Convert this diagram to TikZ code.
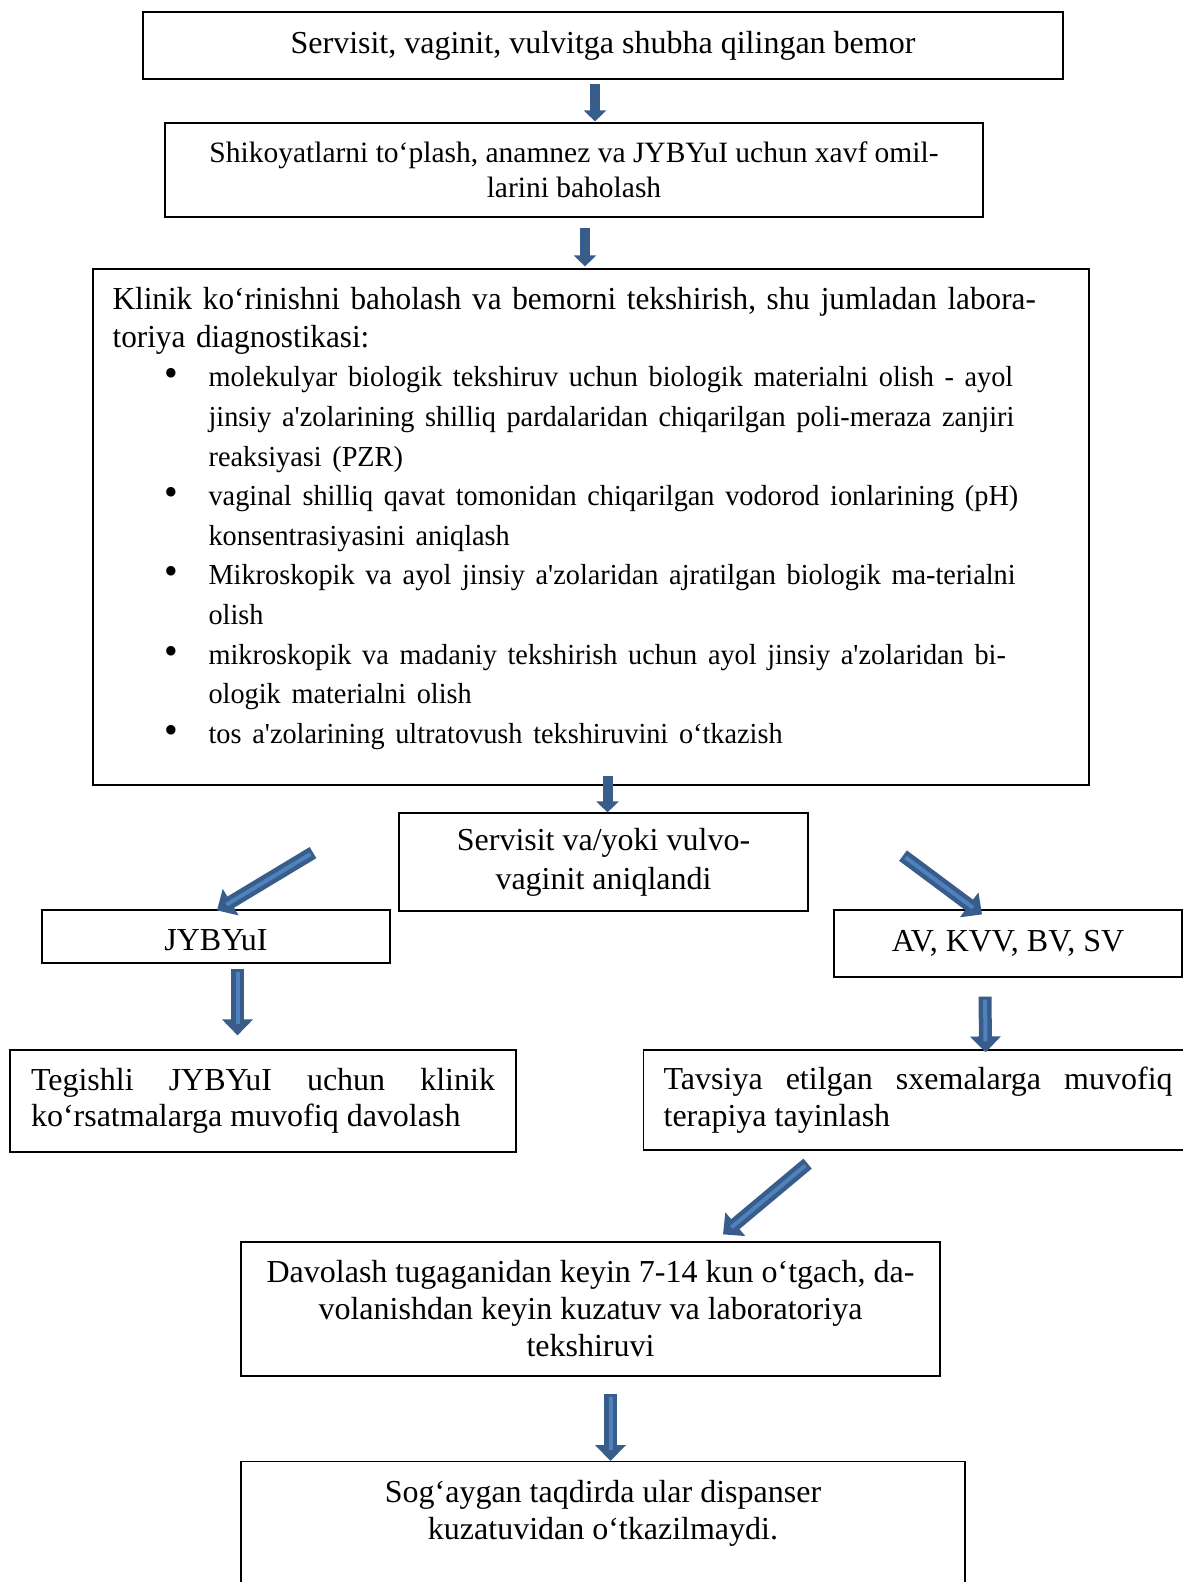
\documentclass[tikz,border=0pt]{standalone}
\usepackage{fontspec}
\setmainfont{Liberation Serif}
\newfontfamily\clinfont{Liberation Serif}[FakeStretch=0.975]
\usetikzlibrary{arrows.meta,calc}
\definecolor{arrowedge}{RGB}{56,93,138}
\definecolor{arrowfill}{RGB}{79,129,189}
\newcommand{\apos}{\textquotesingle}
\newcommand{\labitem}{\par\noindent\hangindent=96pt\hangafter=1%
  \hbox to 96pt{\hspace{52pt}\smash{\fontsize{40}{40}\selectfont\textbullet}\hfil}}
\tikzset{
  box/.style={draw=black,line width=1.2pt,inner sep=0pt,align=center,
              font=\fontsize{32}{37}\selectfont},
  smallbox/.style={box,font=\fontsize{29.5}{34.6}\selectfont},
  justbox/.style={box,align=justify,inner xsep=20pt,font=\fontsize{32}{36.6}\selectfont},
  plain/.style={inner sep=0pt},
  listtext/.style={plain,text width=960pt,font=\clinfont\fontsize{32}{37.5}\selectfont},
  thinarrow/.style={draw=arrowedge,line width=10pt,-{Triangle[width=22pt,length=11pt]}},
  bigarrow/.style={draw=arrowedge,line width=13pt,-{Triangle[width=30pt,length=16pt]}},
  bigcore/.style={draw=arrowfill,line width=4pt,shorten >=11pt,shorten <=3pt},
}
\begin{document}
\begin{tikzpicture}[x=1pt,y=-1pt]
  \path[use as bounding box] (0,0) rectangle (1183,1582);

  % upper chain
  \node[box,minimum width=920pt,minimum height=67pt] (top) at (603,45.5)
    {Servisit, vaginit, vulvitga shubha qilingan bemor};
  \node[smallbox,minimum width=818pt,minimum height=94pt] (shik) at (574,170)
    {Shikoyatlarni to‘plash, anamnez va JYBYuI uchun xavf omil-\\larini baholash};
  \node[box,minimum width=996pt,minimum height=516pt] (clin) at (591,527) {};
  \node[listtext,anchor=north west] (clintext) at ($(clin.north west)+(20,19)$)
    {\parindent=0pt
     Klinik ko‘rinishni baholash va bemorni tekshirish, shu jumladan labora-\newline
     toriya diagnostikasi:\par
     {\fontsize{29}{39.6}\selectfont
     \labitem molekulyar biologik tekshiruv uchun biologik materialni olish - ayol\newline
       jinsiy a\apos zolarining shilliq pardalaridan chiqarilgan poli-meraza zanjiri\newline
       reaksiyasi (PZR)
     \labitem vaginal shilliq qavat tomonidan chiqarilgan vodorod ionlarining (pH)\newline
       konsentrasiyasini aniqlash
     \labitem Mikroskopik va ayol jinsiy a\apos zolaridan ajratilgan biologik ma-terialni\newline
       olish
     \labitem mikroskopik va madaniy tekshirish uchun ayol jinsiy a\apos zolaridan bi-\newline
       ologik materialni olish
     \labitem tos a\apos zolarining ultratovush tekshiruvini o‘tkazish\par}};

  % branches
  \node[box,minimum width=409pt,minimum height=98pt,font=\fontsize{32}{39.3}\selectfont] (found) at (603.5,862)
    {Servisit va/yoki vulvo-\\vaginit aniqlandi};
  \node[box,minimum width=348pt,minimum height=53pt,text height=28pt,text depth=0pt] (jyb) at (216,936.5) {JYBYuI};
  \node[box,minimum width=348pt,minimum height=67pt] (av) at (1008,943.5) {AV, KVV, BV, SV};
  \node[justbox,text width=464pt,minimum width=506pt,minimum height=102pt] (teg) at (263,1101)
    {Tegishli JYBYuI uchun klinik\linebreak ko‘rsatmalarga muvofiq davolash};
  \node[justbox,text width=509pt,minimum height=100pt,anchor=west] (tav) at (643,1100)
    {Tavsiya etilgan sxemalarga muvofiq\linebreak terapiya tayinlash};

  % follow-up
  \node[box,minimum width=699pt,minimum height=134pt] (dav) at (590.5,1309)
    {Davolash tugaganidan keyin 7-14 kun o‘tgach, da-\\volanishdan keyin kuzatuv va laboratoriya\\tekshiruvi};
  \node[box,minimum width=724pt,minimum height=160pt,anchor=north] (bot) at (603,1461) {};
  \node[plain,align=center,font=\fontsize{32}{37}\selectfont] (bottext) at ($(bot.north)+(0,52)$)
    {Sog‘aygan taqdirda ular dispanser\\kuzatuvidan o‘tkazilmaydi.};

  % arrows
  \draw[thinarrow] ($(top.south)+(-8,4)$) -- ($(shik.north)+(21,-1)$);
  \draw[thinarrow] ($(shik.south)+(11,10)$) -- ($(clin.north)+(-6,-2)$);
  \draw[thinarrow] ($(clin.south)+(16.5,-10)$) -- ($(found.north)+(4,0)$);

  \draw[bigarrow] ($(clin.south)+(-278,67)$) -- ($(jyb.north)+(1,1)$);
  \draw[bigcore] ($(clin.south)+(-278,67)$) -- ($(jyb.north)+(1,1)$);
  \draw[bigarrow] ($(clin.south)+(312,70)$) -- ($(av.north)+(-26,5)$);
  \draw[bigcore] ($(clin.south)+(312,70)$) -- ($(av.north)+(-26,5)$);

  \draw[bigarrow] ($(jyb.south)+(21.5,5)$) -- ($(teg.north)+(-25.5,-14)$);
  \draw[bigcore] ($(jyb.south)+(21.5,5)$) -- ($(teg.north)+(-25.5,-14)$);
  \draw[bigarrow] ($(av.south)+(-23,19)$) -- ($(tav.north)+(67.5,3)$);
  \draw[bigcore] ($(av.south)+(-23,19)$) -- ($(tav.north)+(67.5,3)$);

  \draw[bigarrow] ($(tav.south)+(-110.5,13)$) -- ($(dav.north)+(132.5,-7)$);
  \draw[bigcore] ($(tav.south)+(-110.5,13)$) -- ($(dav.north)+(132.5,-7)$);
  \draw[bigarrow] ($(dav.south)+(20,17)$) -- ($(bot.north)+(7.5,0)$);
  \draw[bigcore] ($(dav.south)+(20,17)$) -- ($(bot.north)+(7.5,0)$);
\end{tikzpicture}
\end{document}
